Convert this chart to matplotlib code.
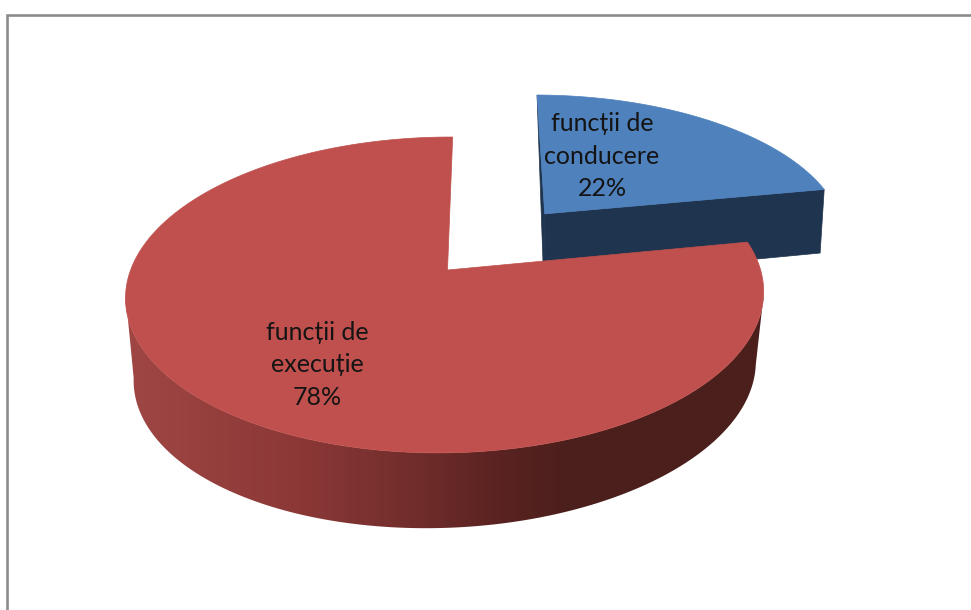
"""Exploded 3D pie: functii de conducere / executie."""

import numpy as np
import matplotlib

matplotlib.use("Agg")

import matplotlib.pyplot as plt
from matplotlib.colors import LinearSegmentedColormap
from matplotlib.patches import Polygon

CATEGORIES = ["funcții de\nconducere", "funcții de\nexecuție"]
SHARES = [22, 78]

# camera model fitted to the reference, in pixels
ORIGIN_X, ORIGIN_Y = 447.5, 270.0
SCALE_X, SCALE_Y = 315.0, 154.0
SHEAR = 6.0
PERSPECTIVE_V, PERSPECTIVE_U = 0.158, 0.006
EXPLODE = 0.503
# lower plane of each slice: depth, shrink, vertical scale, roll
RED_BOTTOM = (78.7, 0.025, 145.0, -6.0)
BLUE_BOTTOM = (69.7, 0.012, 154.0, 0.0)
# where the rim leaves the outline of the top face, right and left
RIM_START, RIM_STOP = 99, 261

BLUE_TOP, BLUE_SIDE = "#4f81bd", "#1f344e"
RED_TOP = "#c0504d"
RED_SIDE_STOPS = [
    (120, "#a04745"), (300, "#8b3836"), (400, "#742f2d"),
    (500, "#5a2321"), (570, "#4b1f1c"), (770, "#4b1f1c"),
]

plt.rcParams["font.family"] = ["Lato", "DejaVu Sans"]


def project(u, v, bottom=None):
    """Map pie-plane coordinates to picture pixels."""
    depth, shrink, scale_y, roll = bottom or (0.0, 0.0, SCALE_Y, 0.0)
    w = 1 + PERSPECTIVE_V * v + PERSPECTIVE_U * u + shrink
    x = ORIGIN_X + (SCALE_X * u + SHEAR * v) / w
    y = ORIGIN_Y + (-scale_y * v + roll * u + depth) / w
    return np.column_stack([x, y])


def arc(start, stop, du=0.0, dv=0.0, bottom=None):
    angles = np.radians(np.linspace(start, stop, 200))
    return project(du + np.sin(angles), dv + np.cos(angles), bottom)


def apex(du=0.0, dv=0.0, bottom=None):
    return project(np.array([du]), np.array([dv]), bottom)


fig = plt.figure(figsize=(9.71, 6.10), dpi=100)
ax = fig.add_axes([0, 0, 1, 1])
ax.axis("off")

# frame of the pasted picture: only top and left remain
ax.plot([971, 7, 7], [15, 15, 610], color="#8c8c8c", lw=1.9, solid_joinstyle="miter")

split = 360 * SHARES[0] / sum(SHARES)
mid = np.radians(split / 2)
du, dv = EXPLODE * np.sin(mid), EXPLODE * np.cos(mid)

# blue slice, moved out along its bisector
blue_front = np.vstack([
    apex(du, dv), arc(split, split, du, dv)[:1],
    arc(split, split, du, dv, BLUE_BOTTOM)[:1], apex(du, dv, BLUE_BOTTOM),
])
blue_back = np.vstack([
    arc(0, 0, du, dv)[:1], apex(du, dv), apex(du, dv, BLUE_BOTTOM),
])
for points in (blue_back, blue_front):
    ax.add_patch(Polygon(points, closed=True, fc=BLUE_SIDE, ec=BLUE_SIDE, lw=0.5))
blue_face = np.vstack([apex(du, dv), arc(0, split, du, dv)])
ax.add_patch(Polygon(blue_face, closed=True, fc=BLUE_TOP, ec=BLUE_TOP, lw=0.5))

# red slice side with its horizontal shading
red_rim = np.vstack([
    arc(RIM_START, RIM_STOP), arc(RIM_STOP, RIM_START, bottom=RED_BOTTOM),
])
rim_patch = Polygon(red_rim, closed=True, fc="none", ec="none")
ax.add_patch(rim_patch)
x0, x1 = RED_SIDE_STOPS[0][0], RED_SIDE_STOPS[-1][0]
cmap = LinearSegmentedColormap.from_list(
    "red_side", [((x - x0) / (x1 - x0), c) for x, c in RED_SIDE_STOPS]
)
shade = ax.imshow(
    np.linspace(0, 1, 512).reshape(1, -1), cmap=cmap, aspect="auto",
    extent=(x0, x1, 560, 240), zorder=1,
)
shade.set_clip_path(rim_patch)

red_face = np.vstack([apex(), arc(split, 360)])
ax.add_patch(Polygon(red_face, closed=True, fc=RED_TOP, ec=RED_TOP, lw=0.5, zorder=2))

label_style = dict(ha="center", va="center", fontsize=18, color="#141414",
                   linespacing=1.5, zorder=3)
ax.text(602, 156, f"{CATEGORIES[0]}\n{SHARES[0]}%", **label_style)
ax.text(317, 365, f"{CATEGORIES[1]}\n{SHARES[1]}%", **label_style)

ax.set_xlim(0, 971)
ax.set_ylim(610, 0)

fig.savefig("out.png", dpi=100)
